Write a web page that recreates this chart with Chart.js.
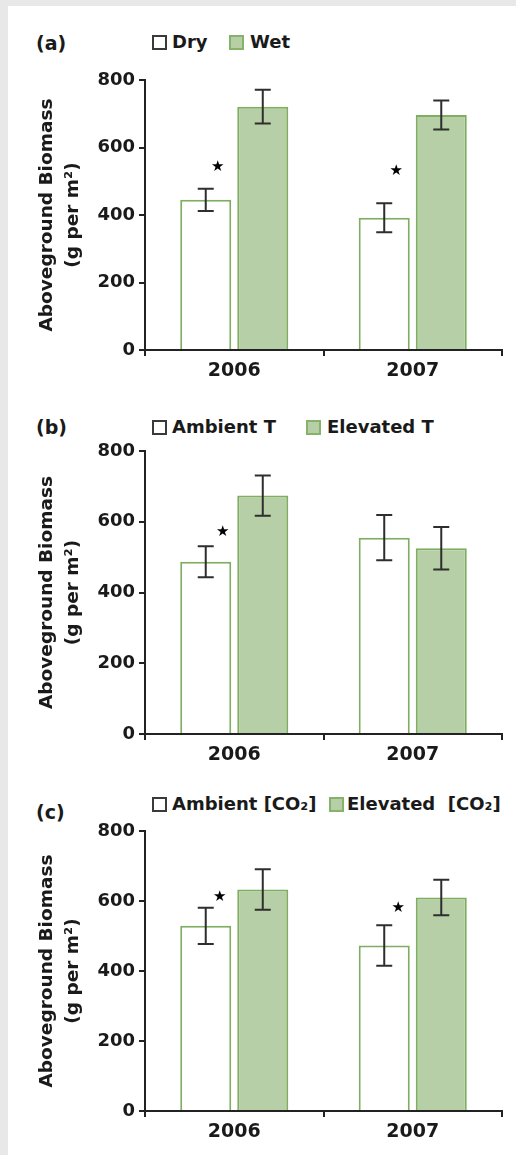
<!DOCTYPE html>
<html>
<head>
<meta charset="utf-8">
<script src="https://cdn.jsdelivr.net/npm/chart.js@4.4.0/dist/chart.umd.min.js"></script>
<style>
    body { margin: 0; width: 516px; height: 1155px; background: #e8e8e8; overflow: hidden; position: relative; font-family: 'DejaVu Sans', sans-serif; color: #1a1a1a; }
    #page { position: absolute; left: 8px; top: 6px; width: 508px; height: 1149px; background: #fff; }
    canvas { position: absolute; left: 8px; }
    .tag, .txt { position: absolute; height: 24px; line-height: 24px; font-weight: bold; white-space: pre; }
    .tag { font-size: 19px; }
    .txt { font-size: 18px; }
    .box { position: absolute; width: 11px; height: 11px; }
    .box.open { background: #fff; border: 2px solid #3a3a3a; }
    .box.fill { background: #b7cfa6; border: 2px solid #86b36a; }
</style>
</head>
<body>
<div id="page"></div>

<div class="tag" style="left:36px;top:31px">(a)</div>
<div class="box open" style="left:152px;top:35px"></div>
<div class="txt" style="left:172px;top:30px">Dry</div>
<div class="box fill" style="left:229px;top:35px"></div>
<div class="txt" style="left:250px;top:30px">Wet</div>
<canvas id="chart_a" width="508" height="330" style="top:60px"></canvas>

<div class="tag" style="left:36px;top:415px">(b)</div>
<div class="box open" style="left:152px;top:420px"></div>
<div class="txt" style="left:172px;top:415px">Ambient T</div>
<div class="box fill" style="left:306px;top:420px"></div>
<div class="txt" style="left:327px;top:415px">Elevated T</div>
<canvas id="chart_b" width="508" height="343" style="top:431px"></canvas>

<div class="tag" style="left:36px;top:800px">(c)</div>
<div class="box open" style="left:152px;top:797px"></div>
<div class="txt" style="left:172px;top:792px">Ambient [CO₂]</div>
<div class="box fill" style="left:329px;top:797px"></div>
<div class="txt" style="left:347px;top:792px">Elevated  [CO₂]</div>
<canvas id="chart_c" width="508" height="340" style="top:811px"></canvas>

<script>
var years = ['2006', '2007'];
var yTicks = [0, 200, 400, 600, 800];

// (a) precipitation
var dry = [445, 392];
var dryErr = [33, 43];
var wet = [721, 696];
var wetErr = [50, 43];
var starsA = [542, 530];

// (b) temperature
var ambientT = [487, 555];
var ambientTErr = [44, 64];
var elevatedT = [674, 525];
var elevatedTErr = [57, 60];
var starsB = [572, null];

// (c) CO2
var ambientC = [529, 473];
var ambientCErr = [52, 58];
var elevatedC = [633, 610];
var elevatedCErr = [58, 51];
var starsC = [611, 580];

var INK = '#1a1a1a';
var AXIS = '#222';
var GREEN_FILL = '#b7cfa6';
var GREEN_LINE = '#7fae62';

Chart.defaults.font.family = "'DejaVu Sans', sans-serif";
Chart.defaults.color = INK;

var errorBars = {
    id: 'errorBars',
    afterDatasetsDraw: function (chart, args, opts) {
        var ctx = chart.ctx;
        var y = chart.scales.y;
        ctx.save();
        ctx.strokeStyle = '#2e2e2e';
        ctx.lineWidth = 2;
        chart.data.datasets.forEach(function (ds, d) {
            chart.getDatasetMeta(d).data.forEach(function (bar, i) {
                var top = y.getPixelForValue(ds.data[i] + ds.errors[i]);
                var bot = y.getPixelForValue(ds.data[i] - ds.errors[i]);
                ctx.beginPath();
                ctx.moveTo(bar.x, top); ctx.lineTo(bar.x, bot);
                ctx.moveTo(bar.x - 8, top); ctx.lineTo(bar.x + 8, top);
                ctx.moveTo(bar.x - 8, bot); ctx.lineTo(bar.x + 8, bot);
                ctx.stroke();
            });
        });
        ctx.restore();
    }
};

var sigStars = {
    id: 'sigStars',
    afterDatasetsDraw: function (chart, args, opts) {
        var ctx = chart.ctx;
        var y = chart.scales.y;
        var bars = chart.getDatasetMeta(0).data;
        ctx.save();
        ctx.fillStyle = '#000';
        ctx.font = "15px 'DejaVu Sans'";
        ctx.textAlign = 'center';
        ctx.textBaseline = 'middle';
        opts.values.forEach(function (v, i) {
            if (v === null) return;
            ctx.fillText('★', bars[i].x + opts.dx, y.getPixelForValue(v));
        });
        ctx.restore();
    }
};

function getConfig(first, firstErr, second, secondErr, stars, dx) {
    return {
        type: 'bar',
        data: {
            labels: years,
            datasets: [{
                data: first,
                errors: firstErr,
                backgroundColor: '#fff',
                borderColor: GREEN_LINE,
                borderWidth: 2
            }, {
                data: second,
                errors: secondErr,
                backgroundColor: GREEN_FILL,
                borderColor: GREEN_LINE,
                borderWidth: 2
            }]
        },
        options: {
            responsive: false,
            animation: false,
            events: [],
            categoryPercentage: 0.639,
            barPercentage: 0.895,
            layout: { padding: { top: 20, right: 14, left: 0, bottom: 0 } },
            plugins: {
                legend: { display: false },
                tooltip: { enabled: false },
                sigStars: { values: stars, dx: dx }
            },
            scales: {
                x: {
                    afterFit: function (s) { s.height = 40; },
                    border: { display: true, color: AXIS, width: 2 },
                    grid: { display: true, drawOnChartArea: false, offset: true, tickLength: 6, color: AXIS, lineWidth: 2 },
                    ticks: { padding: 4, color: INK, font: { size: 19, weight: 'bold' } }
                },
                y: {
                    min: 0,
                    max: 800,
                    afterFit: function (s) { s.width = 137; },
                    afterBuildTicks: function (s) { s.ticks = yTicks.map(function (v) { return { value: v }; }); },
                    border: { display: true, color: AXIS, width: 2 },
                    grid: { display: true, drawOnChartArea: false, tickLength: 6, color: AXIS, lineWidth: 2 },
                    ticks: { padding: 4, color: INK, font: { size: 18, weight: 'bold' } },
                    title: {
                        display: true,
                        text: ['Aboveground Biomass', '(g per m²)'],
                        color: INK,
                        padding: { top: 26, bottom: 0 },
                        font: { size: 18.5, weight: 'bold', lineHeight: 1.4 }
                    }
                }
            }
        },
        plugins: [errorBars, sigStars]
    };
}

new Chart(document.getElementById('chart_a').getContext('2d'), getConfig(dry, dryErr, wet, wetErr, starsA, 12));
new Chart(document.getElementById('chart_b').getContext('2d'), getConfig(ambientT, ambientTErr, elevatedT, elevatedTErr, starsB, 17));
new Chart(document.getElementById('chart_c').getContext('2d'), getConfig(ambientC, ambientCErr, elevatedC, elevatedCErr, starsC, 14));
</script>
</body>
</html>
